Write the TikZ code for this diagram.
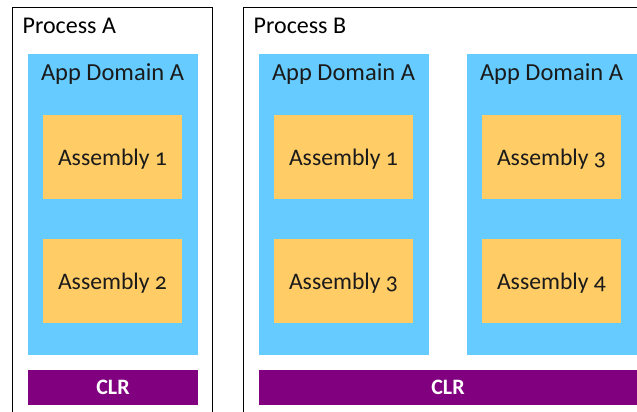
\documentclass[tikz,border=0pt]{standalone}
\usepackage{fontspec}
\setmainfont[Numbers=OldStyle]{Carlito}
\definecolor{domainblue}{HTML}{66CCFF}
\definecolor{asmorange}{HTML}{FFCC66}
\definecolor{clrpurple}{HTML}{800080}
\definecolor{inktext}{HTML}{1A1A1A}
\tikzset{
  procbox/.style={draw=black, line width=1.3pt, fill=white},
  domainbox/.style={fill=domainblue, draw=none, inner sep=0pt, minimum width=170pt, minimum height=301pt},
  asmbox/.style={fill=asmorange, draw=none, inner sep=0pt, minimum width=139pt, minimum height=84pt,
    text height=17pt, text depth=0pt,
    font=\fontsize{23.7}{23.7}\selectfont, text=inktext},
  clrbox/.style={fill=clrpurple, draw=none, inner sep=0pt, minimum height=35pt,
    font=\fontsize{22}{22}\selectfont\bfseries, text=white},
  proclabel/.style={anchor=base west, inner sep=0pt, font=\fontsize{24}{24}\selectfont, text=black},
  domlabel/.style={anchor=base, inner sep=0pt, font=\fontsize{24.5}{24.5}\selectfont, text=inktext},
}
\begin{document}
\begin{tikzpicture}[x=1pt, y=-1pt]
  \useasboundingbox (0,0) rectangle (637,412);
  \clip (0,0) rectangle (637,412);
  \fill[white] (0,0) rectangle (637,412);

  % processes (open at the bottom/right edge)
  \draw[procbox] (12.5,7.5) rectangle (212.8,430);
  \draw[procbox] (243.5,7.5) rectangle (660,430);
  \node[proclabel] (pA) at (22.5,33.7) {Process A};
  \node[proclabel] (pB) at (253.5,33.7) {Process B};

  % application domains
  \node[domainbox] (d1) at (113,204.5) {};
  \node[domainbox] (d2) at (344,204.5) {};
  \node[domainbox] (d3) at (552,204.5) {};
  \node[domlabel] (d1t) at (112.5,80.5) {App Domain A};
  \node[domlabel] (d2t) at (343.5,80.5) {App Domain A};
  \node[domlabel] (d3t) at (551.5,80.5) {App Domain A};

  % assemblies
  \node[asmbox] (a11) at (112.5,157) {Assembly 1};
  \node[asmbox] (a12) at (112.5,281) {Assembly 2};
  \node[asmbox] (a21) at (343.5,157) {Assembly 1};
  \node[asmbox] (a22) at (343.5,281) {Assembly 3};
  \node[asmbox] (a31) at (551.5,157) {Assembly 3};
  \node[asmbox] (a32) at (551.5,281) {Assembly 4};

  % runtimes
  \node[clrbox, minimum width=170pt] (clrA) at (113,387.5) {CLR};
  \node[clrbox, minimum width=400pt] (clrB) at (459,387.5) {};
  \node[anchor=center, inner sep=0pt, font=\fontsize{22}{22}\selectfont\bfseries, text=white] (clrBt) at (448,387.5) {CLR};
\end{tikzpicture}
\end{document}
